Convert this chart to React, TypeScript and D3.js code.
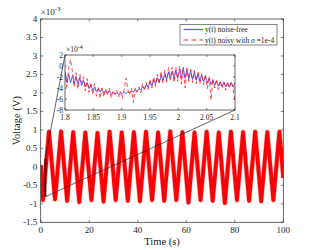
import React from "react";
import * as d3 from "d3";

// main trace: extremes of the slow wave (time in s, voltage in 1e-3 V)
const mainT = [0, 0.9, 3.4, 5.9, 8.4, 10.9, 13.4, 15.9, 18.4, 20.9, 23.4, 25.9, 28.4, 30.9, 33.4, 35.9, 38.4, 40.9, 43.4, 45.9, 48.4, 50.9, 53.4, 55.9, 58.4, 60.9, 63.4, 65.9, 68.4, 70.9, 73.4, 75.9, 78.4, 80.9, 83.4, 85.9, 88.4, 90.9, 93.4, 95.9, 98.4, 100];
const mainV = [0.05, -0.9, 0.95, -0.88, 0.96, -0.92, 0.94, -0.95, 0.93, -0.9, 0.92, -0.94, 0.95, -0.9, 0.93, -0.92, 0.94, -0.93, 0.95, -0.9, 0.93, -0.92, 0.96, -0.9, 0.94, -0.97, 0.93, -0.9, 0.95, -0.92, 0.93, -0.98, 0.95, -0.9, 0.94, -0.92, 0.95, -0.93, 0.94, -0.9, 0.95, -0.3];

// inset samples from t = 1.8 to 2.1 (voltage in 1e-4 V)
const blueVals = [
  -1.3, -2.97, -1.53, -3.08, -1.75, -3.22, -1.98, -3.33, -2.2, -3.55,
  -2.62, -3.83, -3.03, -4.11, -3.45, -4.4, -3.87, -4.6, -4.08, -4.74,
  -4.29, -4.86, -4.45, -4.96, -4.6, -5.04, -4.72, -5.11, -4.85, -5.13,
  -4.8, -5.08, -4.75, -5.0, -4.65, -4.9, -4.55, -4.76, -4.34, -4.57,
  -4.13, -4.36, -3.75, -4.14, -3.37, -3.9, -2.95, -3.62, -2.52, -3.31,
  -2.11, -2.98, -1.69, -2.71, -1.4, -2.51, -1.1, -2.36, -0.9, -2.26,
  -0.7, -2.2, -0.55, -2.2, -0.4, -2.26, -0.6, -2.36, -0.8, -2.47,
  -1.06, -2.6, -1.33, -2.74, -1.59, -2.88, -1.85, -3.08, -2.2, -3.33,
  -2.55, -3.52, -2.72, -3.64, -2.9, -3.74, -2.98, -3.81, -3.05, -3.84,
  -3.03, -3.81, -3.0
];
const redVals = [
  -1.0, -3.8, -0.5, 1.2, -1.0, -3.8, -1.2, -4.2, -1.5, -3.0,
  -2.0, -4.5, -2.3, -4.8, -3.0, -5.2, -3.2, -5.5, -3.8, -5.9,
  -4.0, -5.6, -4.2, -5.3, -4.0, -5.8, -4.5, -5.2, -4.4, -5.6,
  -4.7, -5.9, -4.3, -2.2, -4.3, -5.3, -4.0, -6.6, -4.0, -4.8,
  -3.8, -4.9, -3.2, -4.5, -3.0, -4.3, -2.4, -4.0, -2.0, -3.7,
  -1.5, -3.3, -1.0, -3.1, -0.8, -2.9, -0.3, -2.5, -0.2, -3.0,
  -0.3, -2.8, 0.0, -3.3, -0.2, -4.0, -0.4, -2.8, -0.6, -3.0,
  -0.8, -3.2, -1.1, -3.3, -1.4, -3.4, -1.5, -4.1, -1.9, -6.2,
  -2.3, -4.0, -2.4, -4.3, -2.7, -4.0, -2.8, -4.4, -2.9, -4.0,
  -2.8, -4.3, -6.3
];

const mainXTicks = [0, 20, 40, 60, 80, 100];
const mainYTicks = [-1.5, -1, -0.5, 0, 0.5, 1, 1.5, 2, 2.5, 3, 3.5, 4];
const insetXTicks = [1.8, 1.85, 1.9, 1.95, 2, 2.05, 2.1];
const insetYTicks = [-8, -6, -4, -2, 0, 2];

const serif = "'Liberation Serif', 'Times New Roman', serif";
const axisColor = "#333";

export default function App() {
  const x = d3.scaleLinear().domain([0, 100]).range([40.7, 283.3]);
  const y = d3.scaleLinear().domain([-1.5, 4]).range([222.3, 19]);
  const xi = d3.scaleLinear().domain([1.8, 2.1]).range([65, 235]);
  const yi = d3.scaleLinear().domain([-8, 2]).range([110, 55]);

  const mainLine = d3
    .line<number>()
    .x((d, i) => x(mainT[i]))
    .y((d) => y(d));
  const insetT = blueVals.map((_, i) => 1.8 + (i * 0.3) / (blueVals.length - 1));
  const insetLine = d3
    .line<number>()
    .x((d, i) => xi(insetT[i]))
    .y((d) => yi(d));

  const [x0, x1] = x.range();
  const [y0, y1] = y.range();
  const tk = 2.5;

  // zoom box in main coordinates
  const bx0 = x(1.8), bx1 = x(2.1), by0 = y(0.2), by1 = y(-0.8);

  return (
    <svg width={313} height={250} style={{ display: "block", position: "absolute", left: 0, top: 0 }}>
      <rect width={313} height={250} fill="#fff" />
      <defs>
        <clipPath id="mainClip">
          <rect x={x0} y={y1} width={x1 - x0} height={y0 - y1} />
        </clipPath>
        <clipPath id="insetClip">
          <rect x={65} y={55} width={170} height={55} />
        </clipPath>
      </defs>

      {/* main traces */}
      <g clipPath="url(#mainClip)">
        <path d={mainLine(mainV) || ""} fill="none" stroke="#ff0000" strokeOpacity={0.3} strokeWidth={5} strokeLinejoin="round" />
        <path d={mainLine(mainV) || ""} fill="none" stroke="#ff0000" strokeWidth={3.8} strokeLinejoin="round" />
        <path d={mainLine(mainV) || ""} fill="none" stroke="#3a3aff" strokeWidth={0.5} strokeDasharray="1,9" />
      </g>

      {/* main frame and ticks */}
      <rect x={x0} y={y1} width={x1 - x0} height={y0 - y1} fill="none" stroke={axisColor} strokeWidth={0.75} />
      {mainXTicks.map((t) => (
        <g key={"mx" + t}>
          <line x1={x(t)} x2={x(t)} y1={y0} y2={y0 - tk} stroke={axisColor} strokeWidth={0.6} />
          <line x1={x(t)} x2={x(t)} y1={y1} y2={y1 + tk} stroke={axisColor} strokeWidth={0.6} />
          <text x={x(t)} y={y0 + 11} textAnchor="middle" fontFamily={serif} fontSize={9} fill="#222">{t}</text>
        </g>
      ))}
      {mainYTicks.map((t) => (
        <g key={"my" + t}>
          <line x1={x0} x2={x0 + tk} y1={y(t)} y2={y(t)} stroke={axisColor} strokeWidth={0.6} />
          <line x1={x1} x2={x1 - tk} y1={y(t)} y2={y(t)} stroke={axisColor} strokeWidth={0.6} />
          <text x={x0 - 3.5} y={y(t) + 3} textAnchor="end" fontFamily={serif} fontSize={9} fill="#222">{t}</text>
        </g>
      ))}
      <text x={x0} y={15} fontFamily={serif} fontSize={9} fill="#222">
        ×10<tspan dy={-4} fontSize={7}>-3</tspan>
      </text>
      <text x={162} y={245} textAnchor="middle" fontFamily={serif} fontSize={10.5} fill="#222">Time (s)</text>
      <text transform={`translate(20,${(y0 + y1) / 2}) rotate(-90)`} textAnchor="middle" fontFamily={serif} fontSize={10.5} fill="#222">Voltage (V)</text>

      {/* zoom box and connectors */}
      <rect x={bx0} y={by0} width={bx1 - bx0} height={by1 - by0} fill="none" stroke="#111" strokeWidth={1} />
      <line x1={bx0} y1={by0} x2={xi(1.8)} y2={yi(2)} stroke="#222" strokeWidth={0.7} />
      <line x1={bx1} y1={by1} x2={xi(2.1)} y2={yi(-8)} stroke="#222" strokeWidth={0.7} />

      {/* inset */}
      <rect x={65} y={55} width={170} height={55} fill="#fff" />
      <g clipPath="url(#insetClip)">
        <path d={insetLine(blueVals) || ""} fill="none" stroke="#3535ff" strokeWidth={0.8} />
        <path d={insetLine(redVals) || ""} fill="none" stroke="#ff2020" strokeWidth={0.8} strokeDasharray="4,2.5" />
      </g>
      <rect x={65} y={55} width={170} height={55} fill="none" stroke={axisColor} strokeWidth={0.75} />
      {insetXTicks.map((t) => (
        <g key={"ix" + t}>
          <line x1={xi(t)} x2={xi(t)} y1={110} y2={108} stroke={axisColor} strokeWidth={0.6} />
          <line x1={xi(t)} x2={xi(t)} y1={55} y2={57} stroke={axisColor} strokeWidth={0.6} />
          <text x={xi(t)} y={120} textAnchor="middle" fontFamily={serif} fontSize={7.5} fill="#222">{t}</text>
        </g>
      ))}
      {insetYTicks.map((t) => (
        <g key={"iy" + t}>
          <line x1={65} x2={67} y1={yi(t)} y2={yi(t)} stroke={axisColor} strokeWidth={0.6} />
          <line x1={235} x2={233} y1={yi(t)} y2={yi(t)} stroke={axisColor} strokeWidth={0.6} />
          <text x={63} y={yi(t) + 2.6} textAnchor="end" fontFamily={serif} fontSize={7.5} fill="#222">{t}</text>
        </g>
      ))}
      <text x={66} y={52} fontFamily={serif} fontSize={7.5} fill="#222">
        ×10<tspan dy={-3.5} fontSize={6}>-4</tspan>
      </text>

      {/* legend */}
      <rect x={180} y={24.3} width={97} height={20.7} fill="#fff" stroke={axisColor} strokeWidth={0.6} />
      <rect x={183.5} y={28.9} width={19.5} height={1.2} fill="#5a5aff" />
      <text x={205} y={32.3} fontFamily={serif} fontSize={7.5} fill="#222">y(t) noise-free</text>
      <line x1={183.5} x2={203} y1={40} y2={40} stroke="#ff3030" strokeWidth={1} strokeDasharray="5,3" />
      <text x={205} y={42.8} fontFamily={serif} fontSize={7.5} fill="#222">
        y(t) noisy with <tspan fontStyle="italic">σ</tspan> =1e-4
      </text>
    </svg>
  );
}
